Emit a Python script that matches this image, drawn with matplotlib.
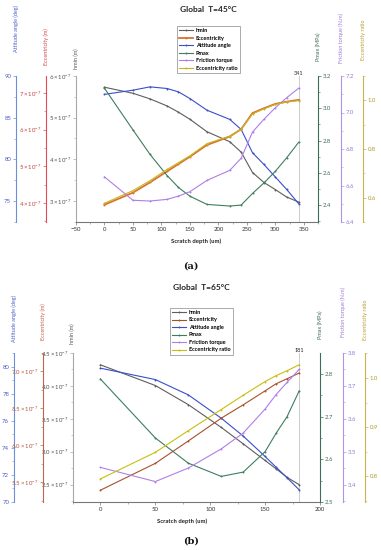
import matplotlib
matplotlib.use('Agg')
import matplotlib.pyplot as plt
from matplotlib.ticker import FixedLocator, FuncFormatter, AutoMinorLocator
from matplotlib.lines import Line2D

plt.rcParams['font.family'] = ['Lato', 'DejaVu Sans']
plt.rcParams['mathtext.fontset'] = 'custom'
plt.rcParams['mathtext.rm'] = 'Lato'
plt.rcParams['mathtext.it'] = 'Lato:italic'
plt.rcParams['mathtext.bf'] = 'Lato:bold'

# ---------------- data: panel (a) T=45C ----------------
depth_a = [0, 50, 80, 110, 130, 150, 180, 220, 240, 260, 280, 300, 320, 341]
hmin_a = [5.73e-7, 5.585e-7, 5.45e-7, 5.28e-7, 5.13e-7, 4.96e-7, 4.66e-7, 4.42e-7,
          4.17e-7, 3.68e-7, 3.44e-7, 3.27e-7, 3.09e-7, 2.97e-7]
ecc_a = [3.95e-7, 4.28e-7, 4.56e-7, 4.86e-7, 5.06e-7, 5.26e-7, 5.58e-7, 5.81e-7,
         6.01e-7, 6.45e-7, 6.58e-7, 6.70e-7, 6.76e-7, 6.81e-7]
att_a = [87.8, 88.3, 88.7, 88.5, 88.1, 87.3, 85.9, 84.8, 83.6, 80.8, 79.4, 77.9, 76.4, 74.7]
pmax_a = [3.124, 2.866, 2.714, 2.583, 2.509, 2.455, 2.404, 2.394, 2.40, 2.472, 2.537,
          2.609, 2.693, 2.789]
fric_a = [6.647, 6.519, 6.515, 6.524, 6.542, 6.566, 6.628, 6.683, 6.749, 6.893, 6.963,
          7.026, 7.081, 7.133]
ratio_a = [0.577, 0.629, 0.670, 0.716, 0.744, 0.772, 0.822, 0.853, 0.881, 0.944, 0.965,
           0.983, 0.993, 0.999]

# ---------------- data: panel (b) T=65C ----------------
depth_b = [0, 50, 80, 110, 130, 150, 160, 170, 181]
hmin_b = [4.32e-7, 4.006e-7, 3.716e-7, 3.37e-7, 3.12e-7, 2.867e-7, 2.74e-7, 2.61e-7, 2.50e-7]
ecc_b = [5.39e-7, 5.754e-7, 6.057e-7, 6.366e-7, 6.547e-7, 6.737e-7, 6.833e-7, 6.901e-7, 6.978e-7]
att_b = [79.88, 79.04, 77.91, 76.19, 74.87, 73.36, 72.57, 71.79, 70.9]
pmax_b = [2.788, 2.650, 2.591, 2.560, 2.570, 2.618, 2.661, 2.700, 2.760]
fric_b = [3.453, 3.410, 3.451, 3.509, 3.557, 3.630, 3.674, 3.711, 3.750]
ratio_b = [0.795, 0.849, 0.893, 0.936, 0.965, 0.993, 1.005, 1.015, 1.027]

series_names = ['hmin', 'Eccentricity', 'Attitude angle', 'Pmax', 'Friction torque',
                'Eccentricity ratio']

W, H = 381, 550
fig = plt.figure(figsize=(W / 100, H / 100), dpi=100)


def fx(x):
    return x / W


def fy(y):
    return 1 - y / H


def sci(dec):
    def f(v, pos):
        m = v / 1e-7
        return r"$%s\times10^{-7}$" % (("%." + str(dec) + "f") % m)
    return FuncFormatter(f)


TICK_FS = 4.3


def style_axis(a, side, color, tcolor, ticks, lim, fmt=None, pos=None):
    for s in a.spines.values():
        s.set_visible(False)
    sp = a.spines[side]
    sp.set_visible(True)
    sp.set_color(color)
    sp.set_linewidth(0.8)
    if pos is not None:
        sp.set_position(('axes', pos))
    if side == 'left':
        a.yaxis.set_ticks_position('left')
    else:
        a.yaxis.set_ticks_position('right')
    a.set_ylim(*lim)
    a.yaxis.set_major_locator(FixedLocator(ticks))
    a.yaxis.set_minor_locator(AutoMinorLocator(2))
    if fmt is not None:
        a.yaxis.set_major_formatter(fmt)
    a.tick_params(axis='y', which='major', colors=color, labelcolor=tcolor,
                  labelsize=TICK_FS, length=2, width=0.5, pad=1.5)
    a.tick_params(axis='y', which='minor', colors=color, length=1.2, width=0.4)


def panel(cfg):
    L, R, T, B = cfg['box']
    ax = fig.add_axes([fx(L), fy(B), fx(R) - fx(L), fy(T) - fy(B)])
    ax.patch.set_alpha(0)
    ax.set_xlim(*cfg['xlim'])
    ax.xaxis.set_major_locator(FixedLocator(cfg['xticks']))
    ax.xaxis.set_minor_locator(AutoMinorLocator(2))
    ax.tick_params(axis='x', which='major', labelsize=TICK_FS, length=2, width=0.5,
                   colors='#777777', labelcolor='#333333', pad=1.5)
    ax.tick_params(axis='x', which='minor', length=1.2, width=0.4, colors='#777777')
    ax.spines['bottom'].set_color('#777777')
    ax.spines['bottom'].set_linewidth(0.8)

    c = cfg['colors']
    axes = {}
    style_axis(ax, 'left', c['hmin_sp'], c['hmin_t'], cfg['hmin_ticks'], cfg['hmin_lim'],
               sci(cfg['sci_dec']))
    ax.spines['bottom'].set_visible(True)
    axes['hmin'] = ax
    specs = [
        ('att', 'left', cfg['att_pos'], 'att_sp', 'att_t', 'att_ticks', 'att_lim', None),
        ('ecc', 'left', cfg['ecc_pos'], 'ecc_sp', 'ecc_t', 'ecc_ticks', 'ecc_lim',
         sci(cfg['sci_dec'])),
        ('pmax', 'right', 1.0, 'pmax_sp', 'pmax_t', 'pmax_ticks', 'pmax_lim', None),
        ('fric', 'right', cfg['fric_pos'], 'fric_sp', 'fric_t', 'fric_ticks', 'fric_lim', None),
        ('ratio', 'right', cfg['ratio_pos'], 'ratio_sp', 'ratio_t', 'ratio_ticks', 'ratio_lim',
         None),
    ]
    for key, side, pos, spc, tc, tk, lm, fmt in specs:
        tw = ax.twinx()
        tw.patch.set_alpha(0)
        style_axis(tw, side, c[spc], c[tc], cfg[tk], cfg[lm], fmt, pos)
        axes[key] = tw

    ax.axvline(cfg['vline'], color='#cccccc', lw=0.7, zorder=0)
    ax.text(cfg['vline'], cfg['hmin_lim'][1], str(cfg['vline']), ha='center', va='bottom',
            fontsize=4, color='#222222')

    x = cfg['x']
    order = [('hmin', 'hmin'), ('ecc', 'ecc'), ('att', 'att'), ('pmax', 'pmax'),
             ('fric', 'fric'), ('ratio', 'ratio')]
    handles = []
    for key, dkey in order:
        col = c[key + '_line']
        lw = cfg.get(key + '_lw', 0.8)
        axes[key].plot(x, cfg[dkey], color=col, lw=lw, marker='o', ms=1.4,
                       markeredgewidth=0, zorder=3)
        handles.append(Line2D([], [], color=col, lw=lw, marker='o', ms=1.4,
                              markeredgewidth=0))

    leg = fig.legend(handles, series_names, loc='upper left',
                     bbox_to_anchor=(fx(cfg['leg'][0]), fy(cfg['leg'][1])),
                     bbox_transform=fig.transFigure, fontsize=4,
                     prop={'weight': 'bold', 'size': 4}, handlelength=2.6,
                     handletextpad=0.4, labelspacing=0.45, borderpad=0.4,
                     fancybox=False, framealpha=1, edgecolor='#888888')
    leg.get_frame().set_linewidth(0.5)

    # titles and labels
    fig.text(fx(cfg['title_xy'][0]), fy(cfg['title_xy'][1]), cfg['title'], ha='center',
             va='center', fontsize=6, fontweight='bold', color='#222222')
    fig.text(fx(cfg['xlabel_xy'][0]), fy(cfg['xlabel_xy'][1]), 'Scratch depth (um)',
             ha='center', va='center', fontsize=4.3, fontweight='bold', color='#222222')
    fig.text(fx(cfg['tag_xy'][0]), fy(cfg['tag_xy'][1]), cfg['tag'], ha='center',
             va='center', fontsize=7, fontweight='bold', family='DejaVu Serif',
             color='#111111')
    for text, xy, col in cfg['ylabels']:
        fig.text(fx(xy[0]), fy(xy[1]), text, rotation=90, ha='center', va='center',
                 fontsize=4, color=col)


colors_a = dict(
    hmin_sp='#a8a8a8', hmin_t='#555555', hmin_line='#5e5e5e',
    ecc_sp='#e8495a', ecc_t='#c84040', ecc_line='#d8742e',
    att_sp='#6b8fd8', att_t='#4a5ec8', att_line='#3a4fc8',
    pmax_sp='#3d6e55', pmax_t='#3d6e55', pmax_line='#3f7d5e',
    fric_sp='#b292e4', fric_t='#9a7ad4', fric_line='#b07ee8',
    ratio_sp='#ccb24a', ratio_t='#b09a30', ratio_line='#c9b420',
)
colors_b = dict(
    hmin_sp='#a8a8a8', hmin_t='#555555', hmin_line='#5e5e5e',
    ecc_sp='#b8694a', ecc_t='#b05a40', ecc_line='#a8502e',
    att_sp='#6b8fd8', att_t='#4a5ec8', att_line='#3a4fc8',
    pmax_sp='#3d6e55', pmax_t='#3d6e55', pmax_line='#3f7d5e',
    fric_sp='#b292e4', fric_t='#9a7ad4', fric_line='#b07ee8',
    ratio_sp='#ccb24a', ratio_t='#b09a30', ratio_line='#c8be10',
)

cfg_a = dict(
    box=(76, 318, 76, 222), xlim=(-50, 375), xticks=[-50, 0, 50, 100, 150, 200, 250, 300, 350],
    x=depth_a, hmin=hmin_a, ecc=ecc_a, att=att_a, pmax=pmax_a, fric=fric_a, ratio=ratio_a,
    colors=colors_a, sci_dec=0,
    hmin_ticks=[3e-7, 4e-7, 5e-7, 6e-7], hmin_lim=(2.49e-7, 6.0e-7),
    att_ticks=[75, 80, 85, 90], att_lim=(72.5, 90.0), att_pos=(16 - 76) / 242,
    ecc_ticks=[4e-7, 5e-7, 6e-7, 7e-7], ecc_lim=(3.48e-7, 7.46e-7), ecc_pos=(46 - 76) / 242,
    pmax_ticks=[2.4, 2.6, 2.8, 3.0, 3.2], pmax_lim=(2.295, 3.2),
    fric_ticks=[6.4, 6.6, 6.8, 7.0, 7.2], fric_lim=(6.4, 7.2), fric_pos=(341 - 76) / 242,
    ratio_ticks=[0.6, 0.8, 1.0], ratio_lim=(0.5, 1.1), ratio_pos=(363 - 76) / 242,
    ecc_lw=1.3,
    vline=341, leg=(174, 23), title='Global  T=45°C', title_xy=(208, 10),
    xlabel_xy=(196, 241), tag='(a)', tag_xy=(191, 266),
    ylabels=[('Attitude angle (deg)', (16, 28), '#4a5ec8'),
             ('Eccentricity (m)', (46, 47), '#d04848'),
             ('hmin (m)', (76, 59), '#555555'),
             ('Pmax (MPa)', (318, 47), '#3d6e55'),
             ('Friction torque (N.m)', (341, 38), '#a07ad8'),
             ('Eccentricity ratio', (363, 40), '#b8a030')],
)

cfg_b = dict(
    box=(73, 320, 353, 502), xlim=(-25, 200), xticks=[0, 50, 100, 150, 200],
    x=depth_b, hmin=hmin_b, ecc=ecc_b, att=att_b, pmax=pmax_b, fric=fric_b, ratio=ratio_b,
    colors=colors_b, sci_dec=1,
    hmin_ticks=[2.5e-7, 3.0e-7, 3.5e-7, 4.0e-7, 4.5e-7], hmin_lim=(2.236e-7, 4.5e-7),
    att_ticks=[70, 72, 74, 76, 78, 80], att_lim=(70, 81), att_pos=(14 - 73) / 247,
    ecc_ticks=[5.5e-7, 6.0e-7, 6.5e-7, 7.0e-7], ecc_lim=(5.23e-7, 7.25e-7),
    ecc_pos=(43 - 73) / 247,
    pmax_ticks=[2.5, 2.6, 2.7, 2.8], pmax_lim=(2.5, 2.849),
    fric_ticks=[3.4, 3.5, 3.6, 3.7, 3.8], fric_lim=(3.348, 3.8), fric_pos=(343 - 73) / 247,
    ratio_ticks=[0.8, 0.9, 1.0], ratio_lim=(0.748, 1.051), ratio_pos=(365 - 73) / 247,
    vline=181, leg=(167, 305), title='Global  T=65°C', title_xy=(201, 288),
    xlabel_xy=(182, 521), tag='(b)', tag_xy=(191, 541),
    ylabels=[('Attitude angle (deg)', (14, 318), '#4a5ec8'),
             ('Eccentricity (m)', (43, 322), '#c06048'),
             ('hmin (m)', (72, 334), '#555555'),
             ('Pmax (MPa)', (320, 325), '#3d6e55'),
             ('Friction torque (N.m)', (343, 312), '#a07ad8'),
             ('Eccentricity ratio', (365, 320), '#b8a030')],
)

panel(cfg_a)
panel(cfg_b)

fig.savefig('out.png', dpi=100)
